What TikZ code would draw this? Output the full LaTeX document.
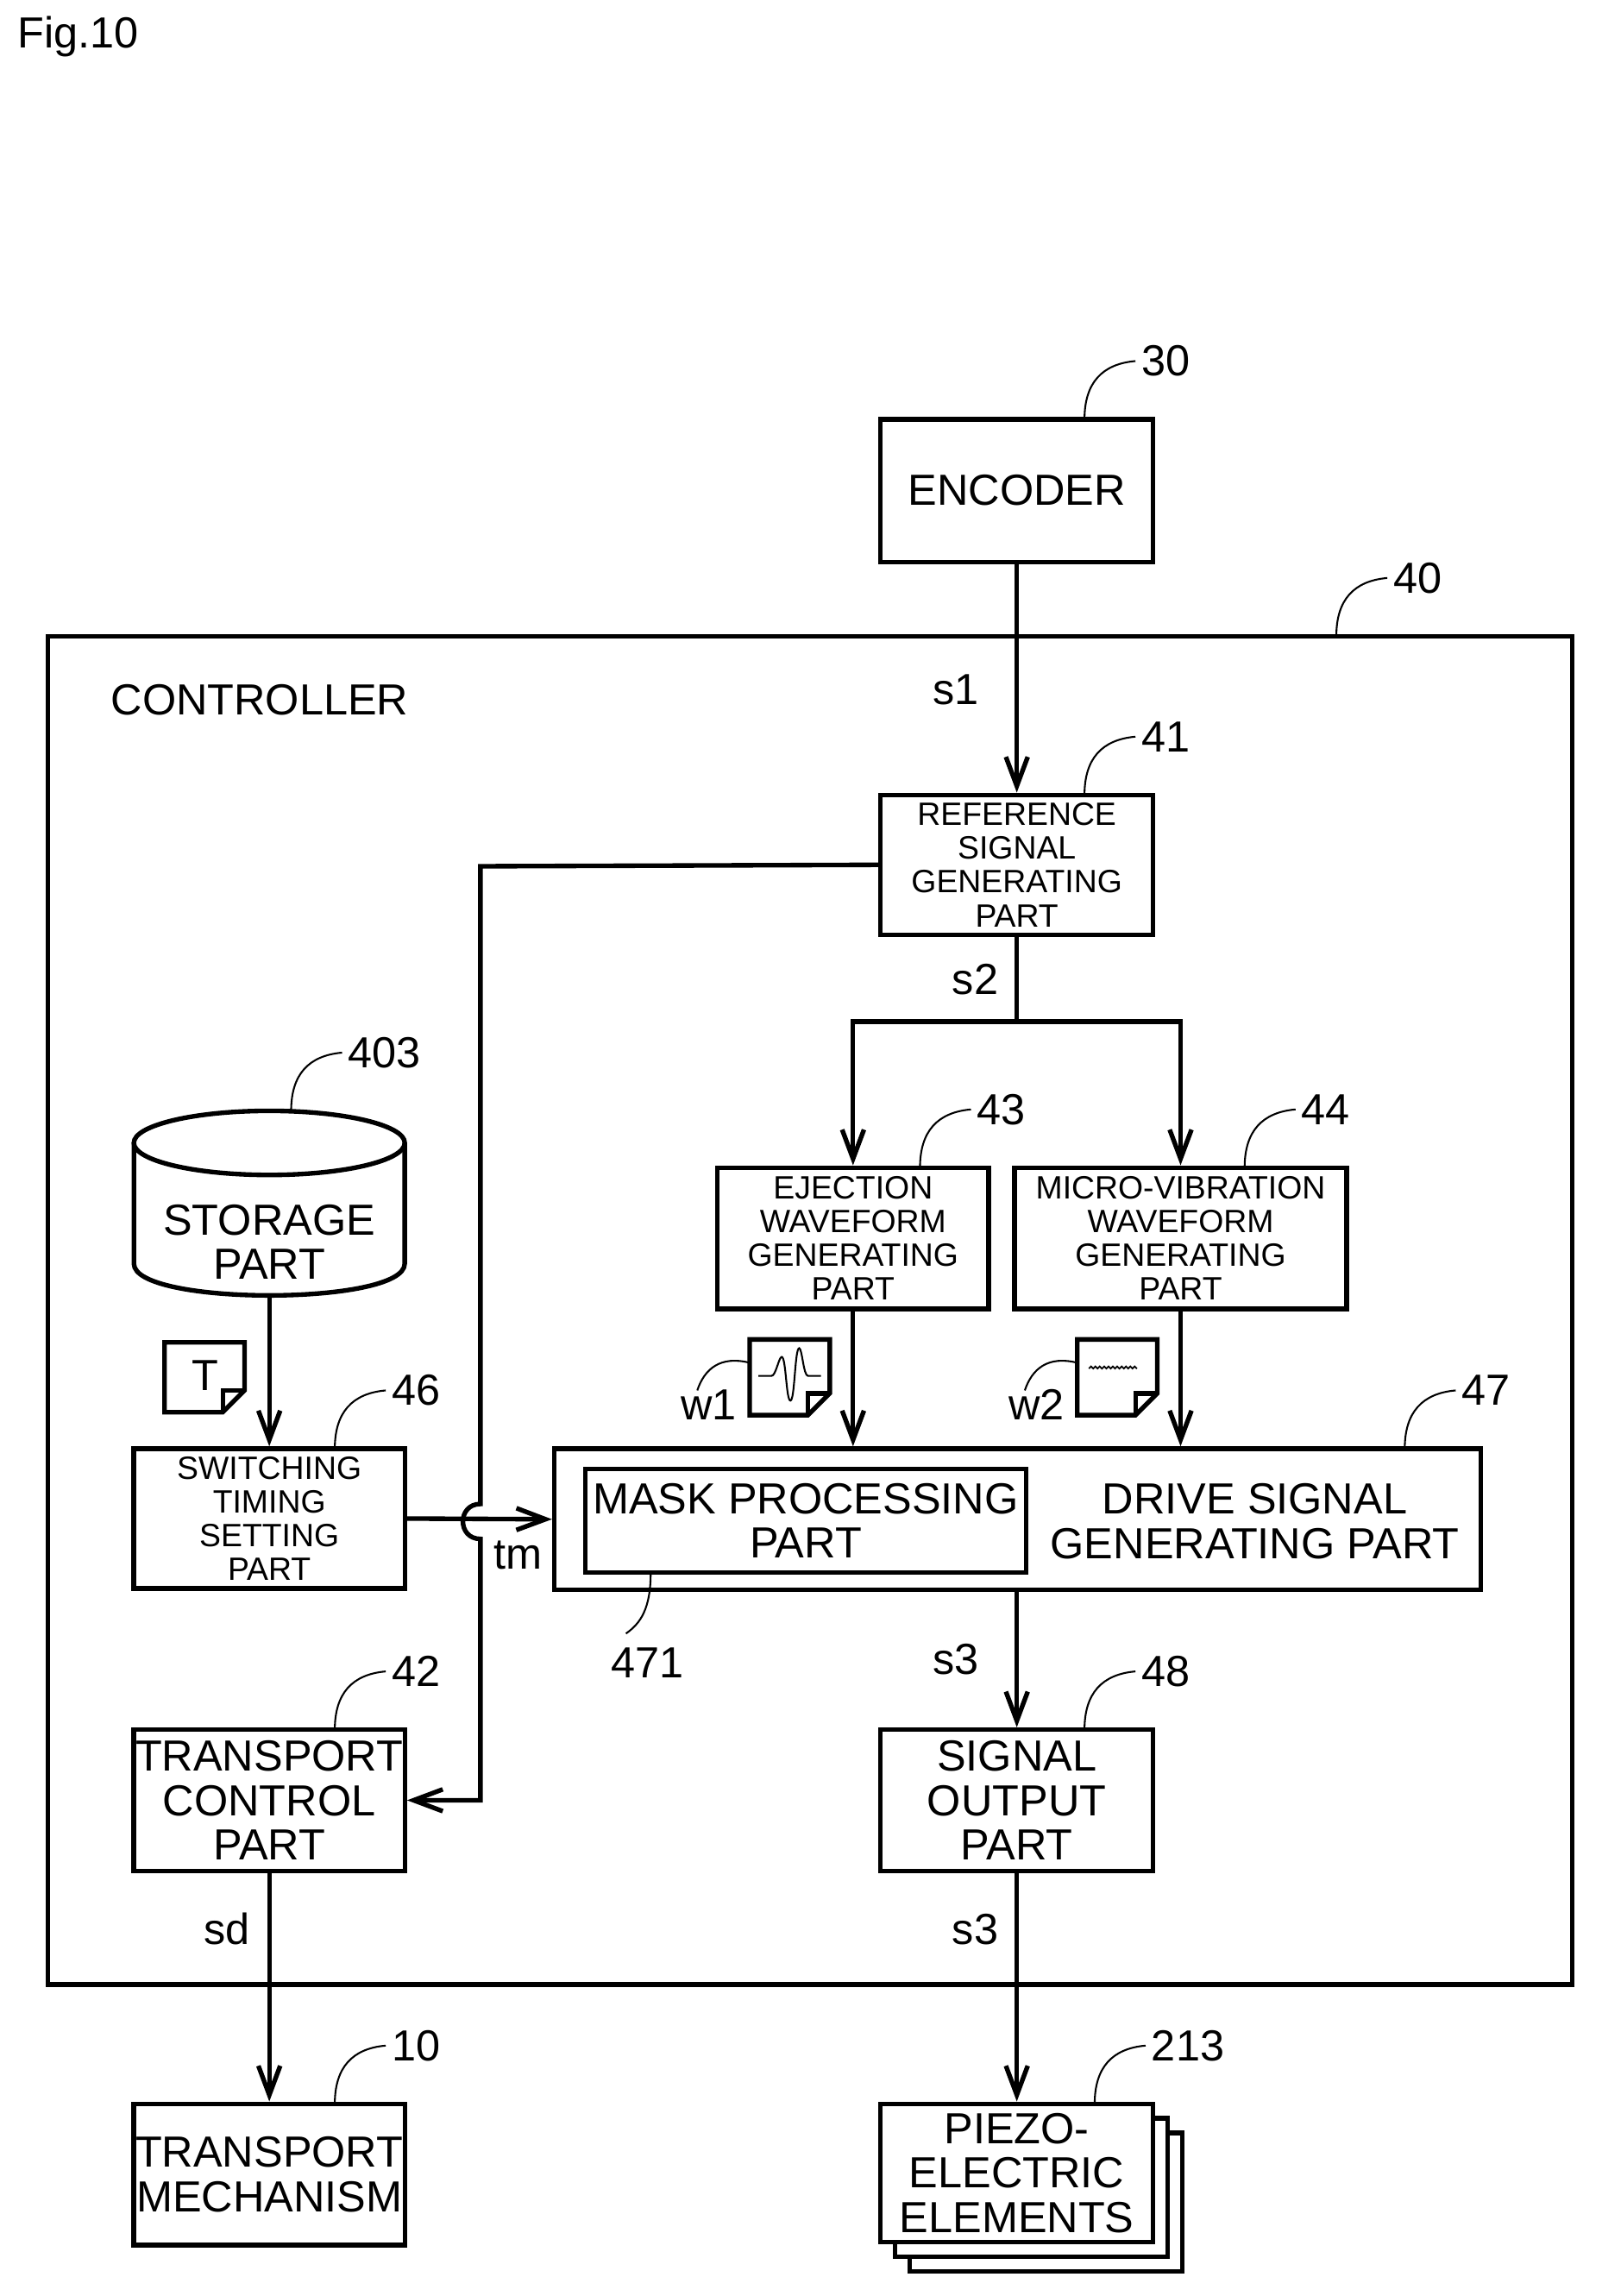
\documentclass[tikz,border=0pt]{standalone}
\usepackage{fontspec}
\setmainfont{Liberation Sans}
\usetikzlibrary{arrows.meta,positioning,calc}
\tikzset{
  blk/.style={draw,line width=0.9pt,align=center,font=\fontsize{8.5}{8.7}\selectfont,inner sep=0pt},
  sblk/.style={blk,font=\fontsize{6.3}{6.6}\selectfont},
  lbl/.style={font=\fontsize{8.5}{9}\selectfont,inner sep=1pt},
  conn/.style={line width=0.9pt,-{Straight Barb[length=2mm,width=1.5mm,line width=0.9pt]}},
  wire/.style={line width=0.9pt},
  lead/.style={line width=0.35pt},
}
% callout from a box edge point to a number
\newcommand{\callout}[3]{%
  \draw[lead] (#1,#2) .. controls (#1,#2-25) and (#1+12,#2-38) .. (#1+35,#2-40)
    node[lbl,anchor=west] {#3};}
% document icon with folded corner
\newcommand{\docicon}[4]{%
  \draw[line width=0.9pt,fill=white] (#1,#2) -- (#3,#2) -- (#3,#4-15) -- (#3-15,#4) -- (#1,#4) -- cycle;
  \draw[line width=0.9pt] (#3-15,#4) -- (#3-15,#4-15) -- (#3,#4-15);}
\begin{document}
\begin{tikzpicture}[x=0.01cm,y=-0.01cm]
  \useasboundingbox (0,0) rectangle (1100,1577);
  \node[lbl,anchor=west] (fig) at (8,25) {Fig.10};

  % controller frame
  \draw[line width=0.9pt] (33,437) rectangle (1080,1363);
  \node[lbl,anchor=west] (ctl) at (72,481) {CONTROLLER};
  \callout{918}{437}{40}

  % blocks
  \node[blk,minimum width=1.87cm,minimum height=0.98cm] (enc) at (698.5,337) {ENCODER};
  \callout{745}{288}{30}
  \node[sblk,minimum width=1.87cm,minimum height=0.96cm] (ref) at (698.5,594) {REFERENCE\\SIGNAL\\GENERATING\\PART};
  \callout{745}{546}{41}
  \node[sblk,minimum width=1.86cm,minimum height=0.97cm] (ejw) at (586,850.5) {EJECTION\\WAVEFORM\\GENERATING\\PART};
  \callout{632}{802}{43}
  \node[sblk,minimum width=2.28cm,minimum height=0.97cm] (mvw) at (811,850.5) {MICRO-VIBRATION\\WAVEFORM\\GENERATING\\PART};
  \callout{855}{802}{44}
  \node[sblk,minimum width=1.86cm,minimum height=0.96cm] (sw) at (185,1043) {SWITCHING\\TIMING\\SETTING\\PART};
  \callout{230}{995}{46}
  \node[blk,minimum width=6.36cm,minimum height=0.97cm] (drv) at (699,1043.5) {};
  \callout{965}{995}{47}
  \node[blk,minimum width=3.03cm,minimum height=0.71cm] (mask) at (553.5,1044.5) {MASK PROCESSING\\PART};
  \node[lbl,align=center,font=\fontsize{8.5}{8.7}\selectfont] (drvtxt) at (862,1045) {DRIVE SIGNAL\\GENERATING PART};
  \draw[lead] (447,1080) .. controls (447,1105) and (440,1115) .. (430,1122);
  \node[lbl] (n471) at (445,1142) {471};
  \node[blk,minimum width=1.86cm,minimum height=0.97cm] (tcp) at (185,1236.5) {TRANSPORT\\CONTROL\\PART};
  \callout{230}{1188}{42}
  \node[blk,minimum width=1.87cm,minimum height=0.97cm] (sop) at (698.5,1236.5) {SIGNAL\\OUTPUT\\PART};
  \callout{745}{1188}{48}
  \node[blk,minimum width=1.86cm,minimum height=0.97cm] (tm) at (185,1493.5) {TRANSPORT\\MECHANISM};
  \callout{230}{1445}{10}
  % stacked piezo elements
  \draw[line width=0.9pt,fill=white] (625,1465) rectangle (812,1560);
  \draw[line width=0.9pt,fill=white] (615,1455) rectangle (802,1550);
  \node[blk,fill=white,minimum width=1.87cm,minimum height=0.95cm] (pz) at (698.5,1492.5) {PIEZO-\\ELECTRIC\\ELEMENTS};
  \callout{752}{1445}{213}

  % storage cylinder
  \draw[line width=0.9pt] (92,785) -- (92,868) .. controls (92,897) and (278,897) .. (278,868) -- (278,785);
  \draw[line width=0.9pt] (185,785) ellipse [x radius=0.93cm,y radius=0.22cm];
  \node[lbl,align=center,font=\fontsize{8.5}{8.7}\selectfont] (st) at (185,853) {STORAGE\\PART};
  \callout{200}{763}{403}
  \coordinate (stb) at (185,890);

  % document icons
  \docicon{113}{922}{168}{970}
  \node[lbl] (tdoc) at (141,945) {T};
  \docicon{515}{920}{570}{972}
  \draw[line width=0.35pt] (521,945) -- (530,945) .. controls (533,945) and (535,932) .. (537,932)
    .. controls (540,932) and (540,962) .. (543,962) .. controls (546,962) and (546,926) .. (549,926)
    .. controls (551,926) and (552,945) .. (555,945) -- (564,945);
  \node[lbl] (w1) at (487,965) {w1};
  \draw[lead] (479,955) .. controls (484,940) and (495,931) .. (515,936);
  \docicon{740}{920}{795}{972}
  \draw[line width=0.3pt] (748,940) \foreach \i in {0,...,10} {-- ++(1.5,-1.5) -- ++(1.5,1.5)};
  \node[lbl] (w2) at (712,965) {w2};
  \draw[lead] (704,955) .. controls (709,940) and (720,931) .. (740,936);

  % connectors
  \draw[conn] (enc.south) -- node[lbl,pos=0.55,left=6pt] {s1} (ref.north);
  \draw[wire] (ref.south) -- ++(0,58) coordinate (sp);
  \node[lbl] (s2) at (670,673) {s2};
  \draw[conn] (sp) -| (ejw.north);
  \draw[conn] (sp) -| (mvw.north);
  \draw[conn] (ejw.south) -- (ejw.south |- drv.north);
  \draw[conn] (mvw.south) -- (mvw.south |- drv.north);
  \draw[conn] (stb) -- (sw.north);
  \draw[conn] (sw.east) -- (drv.west);
  \node[lbl] (tmlbl) at (356,1068) {tm};
  \draw[conn] (ref.west) -- (330,595) -- (330,1033) .. controls (314,1033) and (314,1057) .. (330,1057)
    |- (tcp.east);
  \draw[conn] (drv.south -| sop.north) -- node[lbl,left=6pt] {s3} (sop.north);
  \draw[conn] (tcp.south) -- (tm.north);
  \node[lbl] (sd) at (156,1325) {sd};
  \draw[conn] (sop.south) -- (pz.north);
  \node[lbl] (s3b) at (670,1325) {s3};
\end{tikzpicture}
\end{document}
